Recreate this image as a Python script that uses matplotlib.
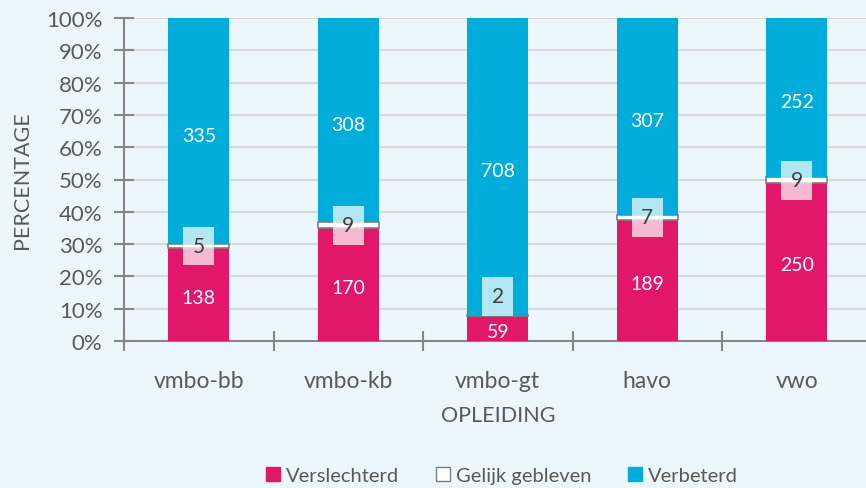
import matplotlib
matplotlib.use("Agg")
import matplotlib.pyplot as plt
import numpy as np
from matplotlib.ticker import PercentFormatter, FixedLocator
from matplotlib.patches import Patch

categories = ["vmbo-bb", "vmbo-kb", "vmbo-gt", "havo", "vwo"]
verslechterd = [138, 170, 59, 189, 250]
gelijk = [5, 9, 2, 7, 9]
verbeterd = [335, 308, 708, 307, 252]
series_names = ["Verslechterd", "Gelijk gebleven", "Verbeterd"]
y_ticks = [0, 10, 20, 30, 40, 50, 60, 70, 80, 90, 100]

PINK = "#E2176A"
BLUE = "#00ADDA"
BG = "#EBF7FD"
GRAY_TXT = "#595959"
AXIS = "#868686"

plt.rcParams["font.family"] = ["Lato", "DejaVu Sans"]

fig = plt.figure(figsize=(8.66, 4.89), dpi=100, facecolor=BG)
ax = fig.add_axes([124/866, 1-342/489, 747.5/866, 323/489])
ax.set_facecolor(BG)

v1 = np.array(verslechterd, float)
v2 = np.array(gelijk, float)
v3 = np.array(verbeterd, float)
tot = v1 + v2 + v3
p1, p2, p3 = v1/tot*100, v2/tot*100, v3/tot*100
x = np.arange(len(categories))
w = 0.41

ax.bar(x, p1, w, color=PINK, zorder=3)
ax.bar(x, p2, w, bottom=p1, color="white", edgecolor="#7F7F7F", linewidth=1.2, zorder=3)
ax.bar(x, p3, w, bottom=p1+p2, color=BLUE, zorder=3)

fs = 14
for i in range(len(x)):
    ax.annotate(str(verslechterd[i]), (x[i], p1[i]/2), xytext=(0, -2), textcoords="offset points",
                ha="center", va="center", color="white", fontsize=fs, zorder=5)
    ax.annotate(str(verbeterd[i]), (x[i], p1[i]+p2[i]+p3[i]/2), xytext=(0, -3), textcoords="offset points",
                ha="center", va="center", color="white", fontsize=fs, zorder=5)
    ymid = p1[i] + p2[i]/2
    dy = 0
    if ymid < 12:
        dy = 14
    ax.annotate(str(gelijk[i]), (x[i], ymid), xytext=(0, dy), textcoords="offset points",
                ha="center", va="center", color="#404040", fontsize=fs+1, zorder=6,
                bbox=dict(boxstyle="square,pad=0.45", fc="white", ec="none", alpha=0.7))

ax.set_xlim(-0.5, len(categories)-0.5)
ax.set_ylim(0, 100)
ax.yaxis.set_major_locator(FixedLocator(y_ticks))
ax.yaxis.set_major_formatter(PercentFormatter(decimals=0))
ax.grid(axis="y", color="#D9D9D9", linewidth=1.5, zorder=0)
ax.set_axisbelow(True)

ax.set_xticks(x)
ax.set_xticklabels(categories)
ax.set_xticks(np.arange(len(categories)+1)-0.5, minor=True)
ax.tick_params(axis="x", which="major", length=0, pad=21, labelsize=16.5, labelcolor=GRAY_TXT)
ax.tick_params(axis="x", which="minor", direction="inout", length=14, width=1.5, color=AXIS)
ax.tick_params(axis="y", direction="inout", length=15, width=1.5, color=AXIS,
               labelsize=16, labelcolor=GRAY_TXT, pad=8)

for s in ["top", "right"]:
    ax.spines[s].set_visible(False)
for s in ["left", "bottom"]:
    ax.spines[s].set_color(AXIS)
    ax.spines[s].set_linewidth(1.5)

ax.set_ylabel("PERCENTAGE", fontsize=15.5, color=GRAY_TXT, labelpad=10)
ax.set_xlabel("OPLEIDING", fontsize=15.5, color=GRAY_TXT, labelpad=10)

handles = [Patch(facecolor=PINK, edgecolor=PINK),
           Patch(facecolor="white", edgecolor="#7F7F7F"),
           Patch(facecolor=BLUE, edgecolor=BLUE)]
fig.legend(handles, series_names, loc="lower center", bbox_to_anchor=(502/866, -0.012),
           ncol=3, frameon=False, fontsize=14.5, labelcolor=GRAY_TXT, borderpad=0.0,
           handlelength=0.7, handleheight=0.7, handletextpad=0.3, columnspacing=1.8)

fig.savefig("out.png", dpi=100, facecolor=BG)
